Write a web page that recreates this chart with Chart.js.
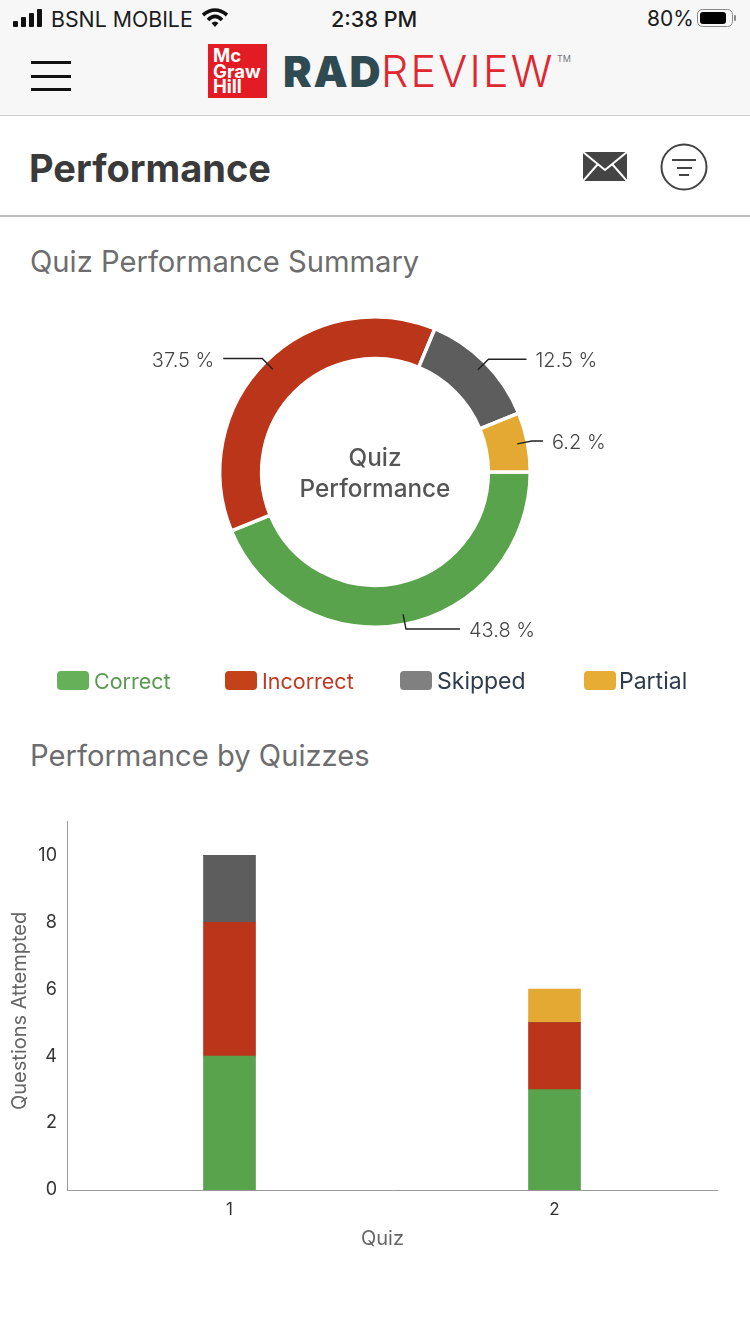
<!DOCTYPE html>
<html>
<head>
<meta charset="utf-8">
<title>Performance</title>
<script src="https://cdn.jsdelivr.net/npm/chart.js@4"></script>
<style>
  html, body { margin: 0; padding: 0; background: #fff; }
  body { position: relative; width: 750px; height: 1333px; overflow: hidden; font-family: Inter, "Noto Sans", sans-serif; }
  .abs { position: absolute; white-space: nowrap; }
  #topbar { left: 0; top: 0; width: 750px; height: 115px; background: #f7f7f7; border-bottom: 1px solid #cfcfcf; }
  .status { line-height: 24px; color: #1c1c1c; }
  .section { left: 30px; font-size: 29.2px; line-height: 36px; color: #6d6d6d; }
  #logo-box { left: 208px; top: 44px; width: 59px; height: 54px; background: #e21b24; color: #fff; font-size: 18.5px; line-height: 15.5px; font-weight: 700; padding: 4px 0 0 5px; box-sizing: border-box; white-space: pre; }
  .legend-box { top: 671px; width: 32px; height: 19px; border-radius: 4px; }
  .legend-text { top: 667px; line-height: 28px; }
  .axis-title { font-size: 20px; line-height: 24px; color: #666; }
</style>
</head>
<body>
<div id="topbar" class="abs"></div>

<svg class="abs" style="left:13px;top:9px" width="32" height="18">
  <rect x="0" y="12" width="5" height="6" rx="1" fill="#111"/>
  <rect x="8" y="8" width="5" height="10" rx="1" fill="#111"/>
  <rect x="16" y="4" width="5" height="14" rx="1" fill="#111"/>
  <rect x="24" y="0" width="5" height="18" rx="1" fill="#111"/>
</svg>
<div class="abs status" style="left:51px;top:7px;font-size:21.3px">BSNL MOBILE</div>
<svg class="abs" style="left:201px;top:7px" width="28" height="21" fill="none" stroke="#111" stroke-width="3.6">
  <path d="M2 8 Q14 -2 26 8"/><path d="M7 13 Q14 6 21 13"/><path d="M14 20 L10.5 16 Q14 13 17.5 16 Z" fill="#111" stroke="none"/>
</svg>
<div class="abs status" style="left:331px;top:7px;font-size:21.6px;font-weight:500">2:38 PM</div>
<div class="abs status" style="left:647px;top:7px;font-size:21px">80%</div>
<svg class="abs" style="left:697px;top:9px" width="42" height="20">
  <rect x="0.5" y="0.5" width="35" height="17" rx="5" fill="none" stroke="#888"/>
  <rect x="3" y="3" width="26" height="12" rx="3" fill="#000"/>
  <rect x="37" y="6" width="2" height="6" rx="1" fill="#888"/>
</svg>

<svg class="abs" style="left:31px;top:60px" width="40" height="32">
  <rect y="1" width="40" height="3" fill="#111"/><rect y="15" width="40" height="3" fill="#111"/><rect y="28" width="40" height="3" fill="#111"/>
</svg>

<div id="logo-box" class="abs">Mc
Graw
Hill</div>
<div class="abs" style="left:283px;top:47px;font-size:43px;line-height:48px;font-weight:900;color:#2f4a50;letter-spacing:1.8px">RAD</div>
<div class="abs" style="left:381px;top:47px;font-size:43px;line-height:48px;font-weight:300;color:#e0262f;letter-spacing:2.2px">REVIEW</div>
<div class="abs" style="left:557px;top:53px;font-size:9px;line-height:11px;color:#777">TM</div>

<div class="abs" style="left:29px;top:145px;font-size:38px;line-height:46px;font-weight:700;color:#3a3a3a">Performance</div>
<svg class="abs" style="left:583px;top:152px" width="44" height="29">
  <rect width="44" height="29" fill="#444"/>
  <path d="M0 0 L22 18 L44 0 M0 29 L15 12 M44 29 L29 12" fill="none" stroke="#fff" stroke-width="2"/>
</svg>
<svg class="abs" style="left:660px;top:143px" width="48" height="48" fill="none" stroke="#444">
  <circle cx="24" cy="24" r="22.5" stroke-width="2"/>
  <path d="M12 17 H36 M17 25 H32 M19 32 H29" stroke-width="2"/>
</svg>
<div class="abs" style="left:0;top:215px;width:750px;height:2px;background:#bdbdbd"></div>

<div class="abs section" style="top:244px">Quiz Performance Summary</div>
<div class="abs" style="left:75px;top:270px;width:600px;height:404px"><canvas id="chart-donut"></canvas></div>
<div id="legend"></div>
<div class="abs section" style="top:738px">Performance by Quizzes</div>
<div class="abs" style="left:0;top:801px;width:750px;height:459px"><canvas id="chart-quizzes"></canvas></div>
<div class="abs axis-title" style="left:7px;top:911px;height:200px;text-align:center;writing-mode:vertical-rl;transform:rotate(180deg)">Questions Attempted</div>
<div class="abs axis-title" style="left:361px;top:1226px">Quiz</div>

<script>
// Quiz Performance Summary
const summaryLabels = ["Correct", "Incorrect", "Skipped", "Partial"];
const summaryValues = [43.8, 37.5, 12.5, 6.2];
const centerLines = ["Quiz", "Performance"];

// Performance by Quizzes
const quizLabels = ["1", "2"];
const correctCounts = [4, 3];
const incorrectCounts = [4, 2];
const skippedCounts = [2, 0];
const partialCounts = [0, 1];
const yTicks = [0, 2, 4, 6, 8, 10];

const sliceColors = ["#58a34b", "#bb351b", "#5d5d5d", "#e3a933"];
const legendColors = ["#66b05a", "#c4421a", "#808080", "#e6ac33"];
const legendTextColors = ["#5a9a50", "#bf3a22", "#2f3b4c", "#2f3b4c"];
const legendLeft = [57, 225, 400, 584];
const legendTextLeft = [94, 262, 437, 619];
const legendFontSize = [21.5, 21.5, 23, 23];
const leaderRun = [54, 39, 38, 11]; // horizontal part of each leader line

function buildLegend() {
    const host = document.getElementById("legend");
    summaryLabels.forEach((label, i) => {
        const box = document.createElement("div");
        box.className = "abs legend-box";
        box.style.left = legendLeft[i] + "px";
        box.style.background = legendColors[i];
        host.appendChild(box);

        const text = document.createElement("div");
        text.className = "abs legend-text";
        text.style.left = legendTextLeft[i] + "px";
        text.style.fontSize = legendFontSize[i] + "px";
        text.style.color = legendTextColors[i];
        text.innerText = label;
        host.appendChild(text);
    });
}

// leader lines, percent labels and the text in the hole
const donutLabels = {
    id: "donutLabels",
    afterDatasetsDraw(chart) {
        const ctx = chart.ctx;
        const arcs = chart.getDatasetMeta(0).data;
        ctx.save();
        arcs.forEach((arc, i) => {
            const mid = (arc.startAngle + arc.endAngle) / 2;
            const cos = Math.cos(mid), sin = Math.sin(mid);
            const side = cos >= 0 ? 1 : -1;
            const x1 = arc.x + cos * 145, y1 = arc.y + sin * 145;
            const x2 = arc.x + cos * 160, y2 = arc.y + sin * 160;
            const x3 = x2 + side * leaderRun[i];

            ctx.beginPath();
            ctx.moveTo(x1, y1);
            ctx.lineTo(x2, y2);
            ctx.lineTo(x3, y2);
            ctx.strokeStyle = "#222";
            ctx.lineWidth = 1.4;
            ctx.stroke();

            ctx.font = "300 20px Inter";
            ctx.fillStyle = "#444";
            ctx.textBaseline = "middle";
            ctx.textAlign = side > 0 ? "left" : "right";
            ctx.fillText(summaryValues[i].toFixed(1) + " %", x3 + side * 9, y2 + 2);
        });

        const first = arcs[0];
        ctx.font = "500 24.3px Inter";
        ctx.fillStyle = "#555";
        ctx.textAlign = "center";
        ctx.textBaseline = "middle";
        centerLines.forEach((line, i) => ctx.fillText(line, first.x, first.y - 13 + i * 30.5));
        ctx.restore();
    }
};

function drawDonut() {
    new Chart(document.getElementById("chart-donut"), {
        type: "doughnut",
        data: {
            labels: summaryLabels,
            datasets: [{
                data: summaryValues,
                backgroundColor: sliceColors,
                borderColor: "#fff",
                borderWidth: 3.5
            }]
        },
        options: {
            responsive: true,
            maintainAspectRatio: false,
            animation: false,
            rotation: 90,
            cutout: "73%",
            layout: { padding: 45 },
            plugins: { legend: { display: false }, tooltip: { enabled: false } }
        },
        plugins: [donutLabels]
    });
}

function barDataset(label, values, color) {
    return { label: label, data: values, backgroundColor: color, barThickness: 52 };
}

function drawQuizzes() {
    new Chart(document.getElementById("chart-quizzes"), {
        type: "bar",
        data: {
            labels: quizLabels,
            datasets: [
                barDataset(summaryLabels[0], correctCounts, sliceColors[0]),
                barDataset(summaryLabels[1], incorrectCounts, sliceColors[1]),
                barDataset(summaryLabels[2], skippedCounts, sliceColors[2]),
                barDataset(summaryLabels[3], partialCounts, sliceColors[3])
            ]
        },
        options: {
            responsive: true,
            maintainAspectRatio: false,
            animation: false,
            layout: { padding: { top: 3, right: 33 } },
            plugins: { legend: { display: false }, tooltip: { enabled: false } },
            scales: {
                x: {
                    stacked: true,
                    grid: { display: false, drawTicks: false },
                    border: { color: "#999" },
                    ticks: { color: "#333", font: { family: "Inter", size: 17 }, padding: 10 },
                    afterFit: (scale) => { scale.height = 70; }
                },
                y: {
                    stacked: true,
                    min: 0,
                    max: 11,
                    afterBuildTicks: (scale) => { scale.ticks = yTicks.map(v => ({ value: v })); },
                    grid: { display: false, drawTicks: false },
                    border: { color: "#999" },
                    ticks: { color: "#333", font: { family: "Inter", size: 18 }, padding: 10 },
                    afterFit: (scale) => { scale.width = 67; }
                }
            }
        }
    });
}

document.addEventListener("DOMContentLoaded", () => {
    buildLegend();
    drawDonut();
    drawQuizzes();
});
</script>
</body>
</html>
